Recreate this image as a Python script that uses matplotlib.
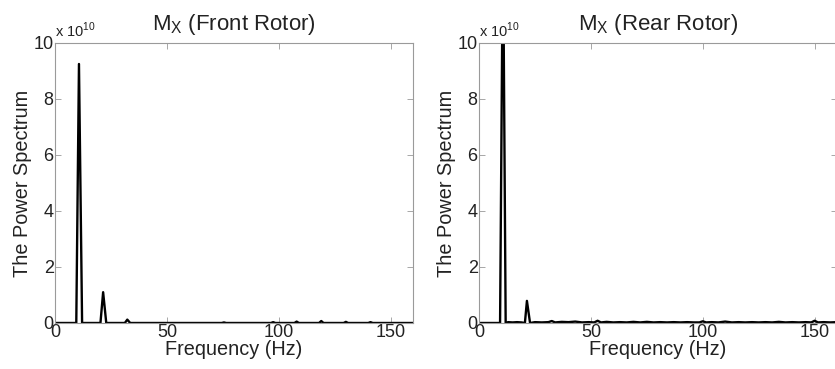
import matplotlib.pyplot as plt
import numpy as np

plt.rcParams['font.family'] = ['Liberation Sans', 'DejaVu Sans']
plt.rcParams['mathtext.fontset'] = 'custom'
plt.rcParams['mathtext.rm'] = 'Liberation Sans'
plt.rcParams['mathtext.sf'] = 'Liberation Sans'

# Front rotor spectrum (frequency in Hz, power in units of 1e10)
front_freq = [0, 9.5, 10.7, 12.1, 20.3, 21.5, 22.9, 31.2, 32.3, 33.6,
              74.5, 75.5, 76.5, 96.5, 97.5, 98.5, 107, 108, 109,
              118, 119, 120, 129, 130, 131, 140, 141, 142, 160]
front_power = [0, 0, 9.25, 0, 0, 1.1, 0, 0, 0.12, 0,
               0, 0.02, 0, 0, 0.03, 0, 0, 0.05, 0,
               0, 0.07, 0, 0, 0.04, 0, 0, 0.03, 0, 0]

# Rear rotor spectrum
rear_freq = [0, 9.4, 10.7, 11.9, 13, 15, 17, 19, 20.5, 21.4, 22.8, 25, 28,
             31, 32.5, 34, 37, 40, 43, 46, 49, 51.5, 53, 54.5, 57, 60, 63,
             66, 69, 72, 75, 78, 81, 84, 87, 90, 93, 96, 98.5, 100, 101.5,
             104, 107, 110, 113, 116, 119, 122, 125, 128, 131, 134, 137,
             140, 143, 146, 148.5, 150, 151.5, 154, 157, 160]
rear_power = [0, 0, 14.0, 0, 0.03, 0.02, 0.03, 0.02, 0, 0.79, 0, 0.03, 0.02,
              0.03, 0.07, 0.02, 0.04, 0.03, 0.05, 0.02, 0.03, 0.02, 0.08, 0.02, 0.04, 0.02, 0.03,
              0.02, 0.04, 0.02, 0.04, 0.02, 0.03, 0.02, 0.03, 0.02, 0.03, 0.02, 0.02, 0.06, 0.02,
              0.03, 0.02, 0.05, 0.02, 0.03, 0.02, 0.03, 0.02, 0.03, 0.02, 0.04, 0.02,
              0.03, 0.02, 0.03, 0.02, 0.08, 0.02, 0.03, 0.02, 0.03]

titles = [r'M$_{\mathsf{X}}$ (Front Rotor)', r'M$_{\mathsf{X}}$ (Rear Rotor)']
yticks = [0, 2, 4, 6, 8, 10]
xticks = [0, 50, 100, 150]

fig = plt.figure(figsize=(8.35, 3.69), dpi=100)
fig.patch.set_facecolor('white')

positions = [[0.0659, 0.1247, 0.4287, 0.7588],
             [0.5737, 0.1247, 0.4287, 0.7588]]
series = [(front_freq, front_power), (rear_freq, rear_power)]

for i, pos in enumerate(positions):
    ax = fig.add_axes(pos)
    x, y = series[i]
    ax.plot(x, y, color='black', linewidth=1.7)
    ax.set_xlim(0, 160)
    ax.set_ylim(0, 10)
    ax.set_xticks(xticks)
    ax.set_yticks(yticks)
    ax.tick_params(direction='in', length=4, width=0.6, color='#999999',
                   top=True, right=True, labelsize=13, labelcolor='#222222', pad=1)
    for spine in ax.spines.values():
        spine.set_color('#9a9a9a')
        spine.set_linewidth(0.8)
    ax.set_xlabel('Frequency (Hz)', fontsize=14.3, color='#222222', labelpad=-1)
    ax.set_ylabel('The Power Spectrum', fontsize=14.3, color='#222222', labelpad=1)
    ax.set_title(titles[i], fontsize=16, color='#222222', pad=9)
    ax.text(0.0, 1.012, r'x 10$^{10}$', transform=ax.transAxes, fontsize=10.5,
            color='#222222', ha='left', va='bottom')

fig.savefig('out.png', dpi=100, facecolor='white')
